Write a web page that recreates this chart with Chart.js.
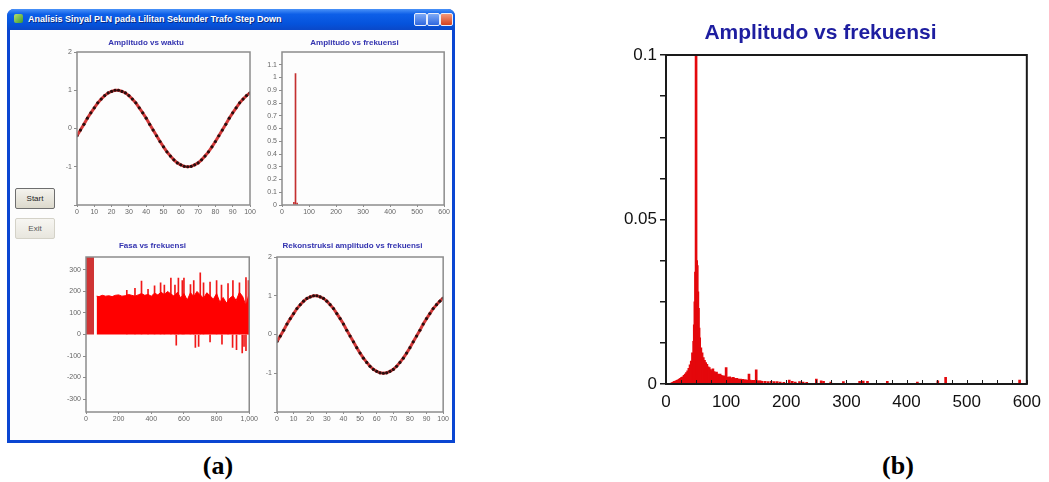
<!DOCTYPE html>
<html>
<head>
<meta charset="utf-8">
<script src="https://cdn.jsdelivr.net/npm/chart.js@4.4.1/dist/chart.umd.min.js"></script>
<style>
  html, body { margin: 0; padding: 0; background: #fff; }
  body { width: 1049px; height: 482px; position: relative; overflow: hidden; font-family: "Liberation Sans", Arial, sans-serif; }
  canvas { position: absolute; }
  .win { position: absolute; left: 7px; top: 9px; width: 448px; height: 434px; background: #0a46d2; border-radius: 7px 7px 0 0; }
  .win .bar { position: absolute; left: 0; top: 0; right: 0; height: 21px; border-radius: 7px 7px 0 0;
    background: linear-gradient(#4a92f8, #0d5fe8 25%, #0553dc 70%, #0a48c8); }
  .win .icon { position: absolute; left: 7px; top: 5px; width: 9px; height: 9px; border-radius: 2px;
    background: linear-gradient(135deg, #b8e070, #3a9a30); }
  .win .ttl { position: absolute; left: 21px; top: 5px; color: #fff; font: bold 9px "Liberation Sans", Arial, sans-serif;
    white-space: nowrap; text-shadow: 1px 1px #0a2a80; }
  .win .ctl { position: absolute; top: 4px; width: 11px; height: 11px; border: 1px solid #e8eefc; border-radius: 2px;
    background: linear-gradient(#7eaaf6, #2d66df); }
  .win .ctl.close { background: linear-gradient(#f3987a, #d4421e); }
  .win .body { position: absolute; left: 3px; top: 21px; right: 3px; bottom: 3px; background: #fdfdfd; }
  .btn { position: absolute; left: 15px; width: 40px; height: 21px; box-sizing: border-box; text-align: center;
    font: 8px "Liberation Sans", Arial, sans-serif; line-height: 19px; border-radius: 2px; }
  .btn.start { top: 188px; border: 1px solid #6e6e6e; background: linear-gradient(#f4f3ee, #dcd9cc); color: #222; }
  .btn.exit { top: 218px; border: 1px solid #d4d2c8; background: linear-gradient(#f7f6f2, #e8e6de); color: #555; }
  .cap { position: absolute; top: 451px; width: 80px; text-align: center; font: bold 26px "Liberation Serif", "Times New Roman", serif; color: #000; }
</style>
</head>
<body>
<div class="win">
  <div class="bar"></div>
  <div class="icon"></div>
  <div class="ttl">Analisis Sinyal PLN pada Lilitan Sekunder Trafo Step Down</div>
  <div class="ctl" style="left:407px"></div>
  <div class="ctl" style="left:420px"></div>
  <div class="ctl close" style="left:433px"></div>
  <div class="body"></div>
</div>
<div class="btn start">Start</div>
<div class="btn exit">Exit</div>
<div class="cap" style="left:178px">(a)</div>
<div class="cap" style="left:858px">(b)</div>

<script>
// Time-domain wave, x in samples 0..100.
const waveTime = [0, 2, 4, 6, 8, 10, 12, 14, 16, 18, 20, 22, 24, 26, 28, 30, 32, 34, 36, 38, 40,
  42, 44, 46, 48, 50, 52, 54, 56, 58, 60, 62, 64, 66, 68, 70, 72, 74, 76, 78, 80,
  82, 84, 86, 88, 90, 92, 94, 96, 98, 100];
const waveAmp = [-0.19, -0.04, 0.11, 0.27, 0.41, 0.54, 0.67, 0.77, 0.86, 0.93, 0.97, 1.0, 1.0, 0.97, 0.93, 0.86,
  0.77, 0.67, 0.54, 0.41, 0.27, 0.11, -0.04, -0.19, -0.34, -0.48, -0.61, -0.72, -0.82, -0.9, -0.95,
  -0.99, -1.0, -0.99, -0.95, -0.9, -0.82, -0.72, -0.61, -0.48, -0.34, -0.19, -0.04, 0.11, 0.27,
  0.41, 0.54, 0.67, 0.77, 0.86, 0.93];
const reconAmp = [-0.18, -0.04, 0.11, 0.27, 0.41, 0.54, 0.67, 0.77, 0.86, 0.93, 0.97, 1.0, 1.0, 0.97, 0.93, 0.86,
  0.77, 0.67, 0.54, 0.41, 0.27, 0.11, -0.04, -0.19, -0.34, -0.48, -0.61, -0.72, -0.82, -0.9, -0.95,
  -0.99, -1.0, -0.99, -0.95, -0.9, -0.82, -0.72, -0.61, -0.48, -0.34, -0.19, -0.04, 0.11, 0.27,
  0.41, 0.54, 0.67, 0.77, 0.86, 0.94];

// Small spectrum panel: one line at the 50 Hz bin plus a tiny base blip.
const specFreq = [44, 50, 56];
const specAmp = [0.02, 1.03, 0.015];

// Phase panel: low-frequency block, the filled body, and the thin spikes.
const phaseLowFreq = [0, 49];
const phaseLowDeg = [358, 358];
const phaseFreq = [65, 80, 100, 120, 140, 160, 180, 200, 220, 240, 260, 280, 300, 320, 340, 360, 380, 400,
  420, 440, 460, 480, 500, 520, 540, 560, 580, 600, 620, 640, 660, 680, 700, 720, 740, 760,
  780, 800, 820, 840, 860, 880, 900, 920, 940, 960, 980, 1000];
const phaseDeg = [178, 176, 182, 178, 180, 176, 182, 184, 178, 180, 186, 182, 178, 184, 190, 182, 186, 178,
  192, 184, 196, 186, 200, 188, 178, 196, 170, 190, 160, 194, 176, 200, 184, 168, 194, 180,
  164, 190, 150, 172, 146, 168, 180, 158, 196, 176, 132, 194];
const spikeFreq = [250, 300, 340, 380, 420, 457, 480, 520, 545, 566, 590, 600, 640, 660, 700, 720, 760, 800,
  830, 870, 900, 940, 980, 995,
  553, 670, 690, 760, 833, 898, 922, 957, 968, 980];
const spikeDeg = [205, 215, 248, 210, 226, 240, 230, 262, 230, 262, 250, 262, 232, 250, 286, 240, 244, 250,
  230, 236, 250, 240, 264, 250,
  -50, -60, -55, -35, -45, -60, -70, -85, -55, -75];

// Zoomed spectrum (b), frequency in Hz, amplitude 0..0.1.
const ampFreq = [10, 12, 14, 16, 18, 20, 22, 24, 26, 28, 30, 32, 34, 36, 38, 40, 42, 44, 46, 47, 48, 49,
  50, 51, 52, 53, 54, 55, 56, 58, 60, 62, 64, 66, 68, 70, 72, 74, 76, 78, 80, 82, 84, 86, 88,
  90, 92, 94, 96, 98, 100, 102, 104, 106, 108, 110, 112, 114, 116, 118, 120, 122, 124, 126,
  128, 130, 132, 134, 136, 138, 140, 142, 144, 146, 148, 150, 152, 154, 156, 158, 160, 165,
  170, 175, 180, 185, 190, 196, 205, 210, 215, 222, 228, 234, 250, 258, 262, 274, 295, 322,
  328, 335, 368, 418, 452, 465, 588];
const ampVal = [0.0004, 0.0006, 0.0008, 0.0009, 0.0011, 0.0013, 0.0015, 0.0017, 0.002, 0.0022, 0.0026,
  0.003, 0.0035, 0.004, 0.0048, 0.0058, 0.007, 0.0095, 0.013, 0.018, 0.025, 0.034, 0.12, 0.0375,
  0.036, 0.028, 0.023, 0.017, 0.014, 0.011, 0.0095, 0.008, 0.0072, 0.0065, 0.006, 0.0052, 0.005,
  0.0044, 0.004, 0.0046, 0.0038, 0.0034, 0.0036, 0.003, 0.0028, 0.003, 0.0026, 0.0024, 0.0025,
  0.0022, 0.005, 0.0021, 0.002, 0.0022, 0.0019, 0.0018, 0.002, 0.0017, 0.0016, 0.0017, 0.0015,
  0.0014, 0.0015, 0.0013, 0.0014, 0.0012, 0.0013, 0.0012, 0.0011, 0.003, 0.0012, 0.001, 0.0011,
  0.001, 0.0011, 0.0043, 0.001, 0.0009, 0.001, 0.0009, 0.0008, 0.0008, 0.0007, 0.0008, 0.0007,
  0.0007, 0.0006, 0.0005, 0.0012, 0.0008, 0.0006, 0.0007, 0.0006, 0.0005, 0.0015, 0.001, 0.0008,
  0.0006, 0.0007, 0.0008, 0.0009, 0.0008, 0.0008, 0.0006, 0.001, 0.002, 0.0012];

const FONT = '"Liberation Sans", Arial, sans-serif';
const RED = '#ff0000';

const toPoints = (xs, ys) => xs.map((x, i) => ({ x, y: ys[i] }));
const tidy = (v) => String(parseFloat(Number(v).toFixed(3)));

// Strokes the plot rectangle so every panel gets a closed frame.
const framePlugin = {
  id: 'frame',
  afterDatasetsDraw(chart, args, opts) {
    const { ctx, chartArea: a } = chart;
    ctx.save();
    ctx.strokeStyle = opts.color || '#888';
    ctx.lineWidth = opts.width || 1;
    ctx.strokeRect(a.left, a.top, a.right - a.left, a.bottom - a.top);
    ctx.restore();
  },
};

// Short tick marks pointing up into the plot from the x axis.
const innerTicksPlugin = {
  id: 'innerTicks',
  afterDatasetsDraw(chart, args, opts) {
    if (!opts.length) return;
    const { ctx, chartArea: a } = chart;
    const scale = chart.scales.x;
    ctx.save();
    ctx.strokeStyle = opts.color;
    ctx.lineWidth = 1;
    scale.ticks.forEach((t) => {
      const px = Math.round(scale.getPixelForValue(t.value)) + 0.5;
      ctx.beginPath();
      ctx.moveTo(px, a.bottom);
      ctx.lineTo(px, a.bottom - opts.length);
      ctx.stroke();
    });
    ctx.restore();
  },
};

// Canvas rectangle for a given plot rectangle plus axis / title / margin sizes.
function placeCanvas(plot, yw, th, xh, pr) {
  const left = plot.l - yw;
  const top = plot.t - th;
  const canvas = document.createElement('canvas');
  canvas.width = plot.r + pr - left;
  canvas.height = plot.b + xh - top;
  canvas.style.left = left + 'px';
  canvas.style.top = top + 'px';
  document.body.appendChild(canvas);
  return canvas;
}

function waveLine(data) {
  return {
    type: 'line',
    data,
    borderColor: '#d43a3a',
    borderWidth: 3,
    pointRadius: 1.6,
    pointBorderWidth: 0,
    pointBackgroundColor: '#2a0e0e',
    tension: 0,
  };
}

function spikeBars(data, color) {
  return { type: 'bar', data, backgroundColor: color, barThickness: 1, grouped: false };
}

function smallChart(cfg) {
  const canvas = placeCanvas(cfg.plot, cfg.yw, 16, 14, cfg.pr);
  const axisFont = { family: FONT, size: 7 };
  return new Chart(canvas, {
    type: 'line',
    data: { datasets: cfg.datasets },
    options: {
      responsive: false,
      animation: false,
      events: [],
      layout: { padding: { right: cfg.pr } },
      plugins: {
        legend: { display: false },
        tooltip: { enabled: false },
        title: {
          display: true,
          text: cfg.title,
          color: '#3434b0',
          font: { family: FONT, size: 8, weight: 'bold', lineHeight: 1 },
          padding: { top: cfg.titleTop, bottom: 8 - cfg.titleTop },
        },
        frame: { color: '#8c8c8c', width: 1.5 },
        innerTicks: { length: 0 },
      },
      scales: {
        x: {
          type: 'linear',
          min: cfg.x.min,
          max: cfg.x.max,
          offset: false,
          afterFit: (s) => { s.height = 14; },
          border: { display: false },
          grid: { drawOnChartArea: false, drawTicks: true, tickLength: 2, color: '#8c8c8c', offset: false },
          ticks: { stepSize: cfg.x.step, autoSkip: false, maxRotation: 0, padding: 1, color: '#666', font: axisFont },
        },
        y: {
          min: cfg.y.min,
          max: cfg.y.max,
          afterFit: (s) => { s.width = cfg.yw; },
          afterBuildTicks: cfg.y.keep ? (s) => { s.ticks = s.ticks.filter((t) => cfg.y.keep(t.value)); } : undefined,
          border: { display: false },
          grid: { drawOnChartArea: false, drawTicks: true, tickLength: 3, color: '#8c8c8c' },
          ticks: {
            stepSize: cfg.y.step,
            autoSkip: false,
            padding: 2,
            color: '#666',
            font: axisFont,
            callback: cfg.y.label || tidy,
          },
        },
      },
    },
    plugins: [framePlugin, innerTicksPlugin],
  });
}

// (a) top-left: amplitude vs time
smallChart({
  title: 'Amplitudo vs waktu',
  plot: { l: 77, t: 52, r: 250, b: 205 },
  yw: 35, pr: 8, titleTop: 3,
  x: { min: 0, max: 100, step: 10 },
  y: { min: -2, max: 2, step: 1, label: (v) => (v === -2 ? '' : v) },
  datasets: [waveLine(toPoints(waveTime, waveAmp))],
});

// (a) top-right: amplitude vs frequency
smallChart({
  title: 'Amplitudo vs frekuensi',
  plot: { l: 282, t: 52, r: 445, b: 205 },
  yw: 18, pr: 6, titleTop: 3,
  x: { min: 0, max: 600, step: 100 },
  y: { min: 0, max: 1.2, step: 0.1, keep: (v) => v < 1.15 },
  datasets: [spikeBars(toPoints(specFreq, specAmp), '#c43030')],
});

// (a) bottom-left: phase vs frequency
smallChart({
  title: 'Fasa vs frekuensi',
  plot: { l: 86, t: 257, r: 250, b: 412 },
  yw: 31, pr: 9, titleTop: 1,
  x: { min: 0, max: 1000, step: 200 },
  y: { min: -360, max: 360, step: 100, keep: (v) => Math.abs(v % 100) < 1e-6 },
  datasets: [
    {
      type: 'line', data: toPoints(phaseLowFreq, phaseLowDeg), fill: 'origin',
      borderColor: '#cf3434', backgroundColor: '#cf3434', borderWidth: 1, pointRadius: 0, tension: 0,
    },
    {
      type: 'line', data: toPoints(phaseFreq, phaseDeg), fill: 'origin',
      borderColor: RED, backgroundColor: RED, borderWidth: 1, pointRadius: 0, tension: 0,
    },
    spikeBars(toPoints(spikeFreq, spikeDeg), '#f01818'),
  ],
});

// (a) bottom-right: reconstructed amplitude
smallChart({
  title: 'Rekonstruksi amplitudo vs frekuensi',
  plot: { l: 277, t: 257, r: 444, b: 412 },
  yw: 16, pr: 6, titleTop: 1,
  x: { min: 0, max: 100, step: 10 },
  y: { min: -2, max: 2, step: 1, label: (v) => (v === -2 ? '' : v) },
  datasets: [waveLine(toPoints(waveTime, reconAmp))],
});

// (b) zoomed amplitude spectrum
const isMajor = (v) => Math.abs(v / 0.05 - Math.round(v / 0.05)) < 1e-6;
const bigCanvas = placeCanvas({ l: 666, t: 55, r: 1033, b: 384 }, 58, 55, 30, 16);
new Chart(bigCanvas, {
  type: 'bar',
  data: {
    datasets: [{
      data: toPoints(ampFreq, ampVal),
      backgroundColor: '#e4080c',
      barThickness: 2,
      grouped: false,
    }],
  },
  options: {
    responsive: false,
    animation: false,
    events: [],
    layout: { padding: { right: 16 } },
    plugins: {
      legend: { display: false },
      tooltip: { enabled: false },
      title: {
        display: true,
        text: 'Amplitudo vs frekuensi',
        color: '#1e1ea0',
        font: { family: FONT, size: 21, weight: 'bold', lineHeight: 1 },
        padding: { top: 23, bottom: 11 },
      },
      frame: { color: '#1a1a1a', width: 2 },
      innerTicks: { length: 4, color: '#1a1a1a' },
    },
    scales: {
      x: {
        type: 'linear',
        min: 0,
        max: 600,
        offset: false,
        afterFit: (s) => { s.height = 30; },
        border: { display: false },
        grid: { display: false, drawTicks: false, offset: false },
        ticks: {
          stepSize: 25,
          autoSkip: false,
          maxRotation: 0,
          padding: 8,
          color: '#111',
          font: { family: FONT, size: 17 },
          callback: (v) => (v % 100 === 0 ? v : ''),
        },
      },
      y: {
        min: 0,
        max: 0.1,
        afterFit: (s) => { s.width = 58; },
        border: { display: false },
        grid: { drawOnChartArea: false, drawTicks: true, tickLength: 6, color: '#1a1a1a', lineWidth: 1.5 },
        ticks: {
          stepSize: 0.0125,
          autoSkip: false,
          padding: 3,
          color: '#111',
          font: { family: FONT, size: 17 },
          callback: (v) => (isMajor(v) ? tidy(v) : ''),
        },
      },
    },
  },
  plugins: [framePlugin, innerTicksPlugin],
});
</script>
</body>
</html>
